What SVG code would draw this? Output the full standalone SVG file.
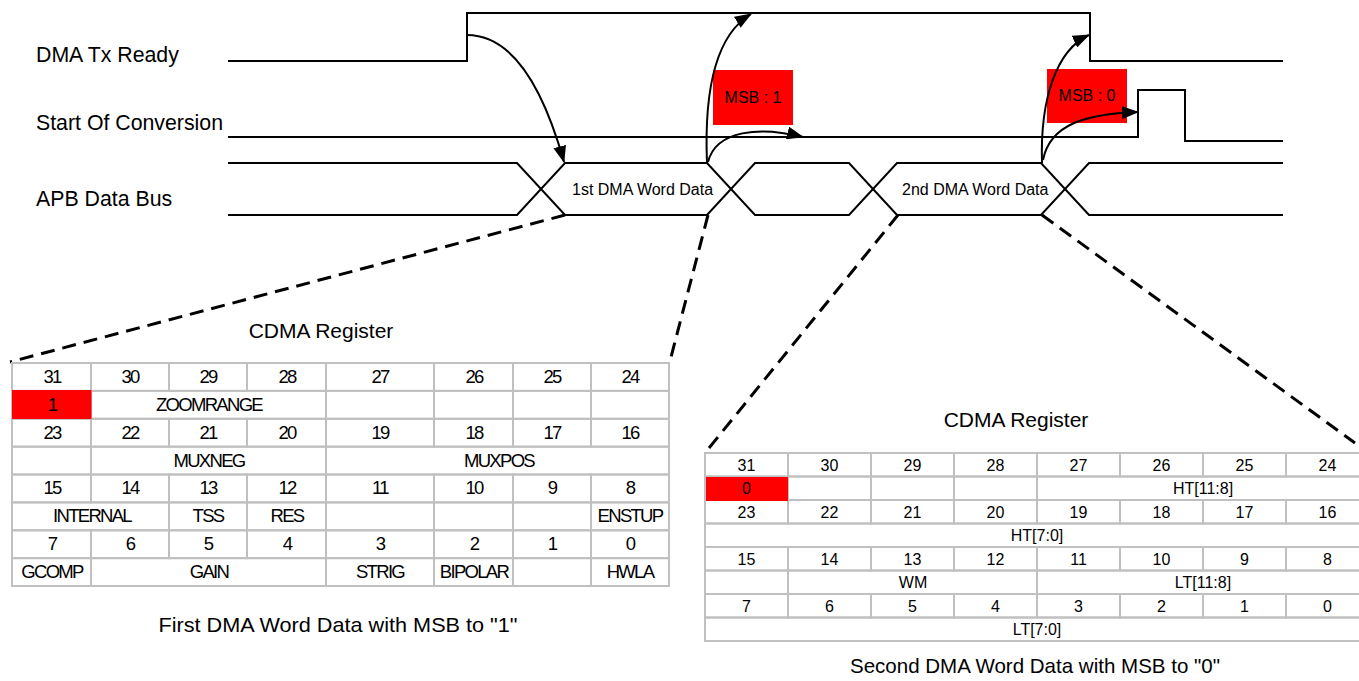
<svg xmlns="http://www.w3.org/2000/svg" width="1359" height="681" viewBox="0 0 1359 681">
<style>
text{font-family:"Liberation Sans",Arial,sans-serif;fill:#000}
.sig{fill:none;stroke:#000;stroke-width:2}
.lbl{font-size:21.3px}
.bus{font-size:16px}
.msb{font-size:16px;text-anchor:middle}
.red{fill:#ff0000}
.cell{fill:none;stroke:#c0c0c0;stroke-width:2}
.lt{font-size:18.5px;letter-spacing:-1.7px;text-anchor:middle}
.rt{font-size:16px;text-anchor:middle}
.title{font-size:21px;text-anchor:middle}
.cap{font-size:21px;text-anchor:middle}
.arr{fill:none;stroke:#000;stroke-width:2;marker-end:url(#ah)}
.dash{fill:none;stroke:#000;stroke-width:3;stroke-dasharray:14 8}
</style>
<defs>
<marker id="ah" markerUnits="userSpaceOnUse" markerWidth="17" markerHeight="13" refX="16" refY="6.5" orient="auto">
<path d="M0,0 L17,6.5 L0,13 z" fill="#000"/>
</marker>
</defs>
<rect width="1359" height="681" fill="#fff"/>

<g id="dma-tx-ready">
<text class="lbl" x="36" y="62">DMA Tx Ready</text>
<path class="sig" d="M228,61 H467 V13 H1090 V61 H1283"/>
</g>

<g id="start-of-conversion">
<text class="lbl" x="36" y="130">Start Of Conversion</text>
<path class="sig" d="M228,137 H1138 V90 H1185 V141 H1283"/>
</g>

<g id="apb-data-bus">
<text class="lbl" x="36" y="206">APB Data Bus</text>
<path class="sig" d="M228,163 H517 L565,215 H707 L755,163 H849 L897,215 H1041 L1089,163 H1283"/>
<path class="sig" d="M228,215 H517 L565,163 H707 L755,215 H849 L897,163 H1041 L1089,215 H1283"/>
<text class="bus" x="572" y="195">1st DMA Word Data</text>
<text class="bus" x="902" y="195">2nd DMA Word Data</text>
</g>

<g id="msb1">
<rect class="red" x="713" y="70" width="80" height="55"/>
<text class="msb" x="753" y="103">MSB : 1</text>
</g>
<g id="msb0">
<rect class="red" x="1047" y="69" width="80" height="54"/>
<text class="msb" x="1087" y="101">MSB : 0</text>
</g>

<g id="connectors">
<path class="arr" d="M467,35 C520,35 548,105 564,162"/>
<path class="arr" d="M707,163 C704,90 716,35 751,14"/>
<path class="arr" d="M708,162 C716,130 760,126 803,137"/>
<path class="arr" d="M1042,163 C1040,100 1056,50 1089,35"/>
<path class="arr" d="M1043,160 C1050,124 1086,114 1138,112"/>
<path class="dash" d="M565,215 L10,362"/>
<path class="dash" d="M708,215 L670,361"/>
<path class="dash" d="M898,215 L705,453"/>
<path class="dash" d="M1042,215 L1355,443"/>
</g>

<g id="cdma-register-1">
<text class="title" x="321" y="338">CDMA Register</text>
<g class="grid">
<rect class="cell" x="12" y="363" width="79" height="27.9"/><rect class="cell" x="91" y="363" width="78" height="27.9"/><rect class="cell" x="169" y="363" width="78" height="27.9"/><rect class="cell" x="247" y="363" width="79" height="27.9"/><rect class="cell" x="326" y="363" width="108" height="27.9"/><rect class="cell" x="434" y="363" width="79" height="27.9"/><rect class="cell" x="513" y="363" width="78" height="27.9"/><rect class="cell" x="591" y="363" width="78" height="27.9"/>
<rect class="cell" x="12" y="390.9" width="79" height="27.9"/><rect class="cell" x="91" y="390.9" width="235" height="27.9"/><rect class="cell" x="326" y="390.9" width="108" height="27.9"/><rect class="cell" x="434" y="390.9" width="79" height="27.9"/><rect class="cell" x="513" y="390.9" width="78" height="27.9"/><rect class="cell" x="591" y="390.9" width="78" height="27.9"/>
<rect class="cell" x="12" y="418.8" width="79" height="27.9"/><rect class="cell" x="91" y="418.8" width="78" height="27.9"/><rect class="cell" x="169" y="418.8" width="78" height="27.9"/><rect class="cell" x="247" y="418.8" width="79" height="27.9"/><rect class="cell" x="326" y="418.8" width="108" height="27.9"/><rect class="cell" x="434" y="418.8" width="79" height="27.9"/><rect class="cell" x="513" y="418.8" width="78" height="27.9"/><rect class="cell" x="591" y="418.8" width="78" height="27.9"/>
<rect class="cell" x="12" y="446.6" width="79" height="27.9"/><rect class="cell" x="91" y="446.6" width="235" height="27.9"/><rect class="cell" x="326" y="446.6" width="343" height="27.9"/>
<rect class="cell" x="12" y="474.5" width="79" height="27.9"/><rect class="cell" x="91" y="474.5" width="78" height="27.9"/><rect class="cell" x="169" y="474.5" width="78" height="27.9"/><rect class="cell" x="247" y="474.5" width="79" height="27.9"/><rect class="cell" x="326" y="474.5" width="108" height="27.9"/><rect class="cell" x="434" y="474.5" width="79" height="27.9"/><rect class="cell" x="513" y="474.5" width="78" height="27.9"/><rect class="cell" x="591" y="474.5" width="78" height="27.9"/>
<rect class="cell" x="12" y="502.4" width="157" height="27.9"/><rect class="cell" x="169" y="502.4" width="78" height="27.9"/><rect class="cell" x="247" y="502.4" width="79" height="27.9"/><rect class="cell" x="326" y="502.4" width="108" height="27.9"/><rect class="cell" x="434" y="502.4" width="79" height="27.9"/><rect class="cell" x="513" y="502.4" width="78" height="27.9"/><rect class="cell" x="591" y="502.4" width="78" height="27.9"/>
<rect class="cell" x="12" y="530.3" width="79" height="27.9"/><rect class="cell" x="91" y="530.3" width="78" height="27.9"/><rect class="cell" x="169" y="530.3" width="78" height="27.9"/><rect class="cell" x="247" y="530.3" width="79" height="27.9"/><rect class="cell" x="326" y="530.3" width="108" height="27.9"/><rect class="cell" x="434" y="530.3" width="79" height="27.9"/><rect class="cell" x="513" y="530.3" width="78" height="27.9"/><rect class="cell" x="591" y="530.3" width="78" height="27.9"/>
<rect class="cell" x="12" y="558.1" width="79" height="27.9"/><rect class="cell" x="91" y="558.1" width="235" height="27.9"/><rect class="cell" x="326" y="558.1" width="108" height="27.9"/><rect class="cell" x="434" y="558.1" width="79" height="27.9"/><rect class="cell" x="513" y="558.1" width="78" height="27.9"/><rect class="cell" x="591" y="558.1" width="78" height="27.9"/>
</g>
<rect class="red" x="12" y="390" width="79.5" height="29"/>
<g class="lt">
<text x="52" y="383">31</text><text x="130" y="383">30</text><text x="208" y="383">29</text><text x="287" y="383">28</text><text x="380" y="383">27</text><text x="474" y="383">26</text><text x="552" y="383">25</text><text x="630" y="383">24</text>
<text x="52" y="411">1</text><text x="209" y="411">ZOOMRANGE</text>
<text x="52" y="439">23</text><text x="130" y="439">22</text><text x="208" y="439">21</text><text x="287" y="439">20</text><text x="380" y="439">19</text><text x="474" y="439">18</text><text x="552" y="439">17</text><text x="630" y="439">16</text>
<text x="209" y="467">MUXNEG</text><text x="499" y="467">MUXPOS</text>
<text x="52" y="494">15</text><text x="130" y="494">14</text><text x="208" y="494">13</text><text x="287" y="494">12</text><text x="380" y="494">11</text><text x="474" y="494">10</text><text x="552" y="494">9</text><text x="630" y="494">8</text>
<text x="92" y="522">INTERNAL</text><text x="208" y="522">TSS</text><text x="287" y="522">RES</text><text x="630" y="522">ENSTUP</text>
<text x="52" y="550">7</text><text x="130" y="550">6</text><text x="208" y="550">5</text><text x="287" y="550">4</text><text x="380" y="550">3</text><text x="474" y="550">2</text><text x="552" y="550">1</text><text x="630" y="550">0</text>
<text x="52" y="578">GCOMP</text><text x="209" y="578">GAIN</text><text x="380" y="578">STRIG</text><text x="474" y="578">BIPOLAR</text><text x="630" y="578">HWLA</text>
</g>
<text class="cap" x="338" y="632" textLength="359" lengthAdjust="spacingAndGlyphs">First DMA Word Data with MSB to "1"</text>
</g>

<g id="cdma-register-2">
<text class="title" x="1016" y="427">CDMA Register</text>
<g class="grid">
<rect class="cell" x="705" y="453" width="83" height="23.5"/><rect class="cell" x="788" y="453" width="83" height="23.5"/><rect class="cell" x="871" y="453" width="83" height="23.5"/><rect class="cell" x="954" y="453" width="83" height="23.5"/><rect class="cell" x="1037" y="453" width="83" height="23.5"/><rect class="cell" x="1120" y="453" width="83" height="23.5"/><rect class="cell" x="1203" y="453" width="83" height="23.5"/><rect class="cell" x="1286" y="453" width="83" height="23.5"/>
<rect class="cell" x="705" y="476.5" width="83" height="23.5"/><rect class="cell" x="788" y="476.5" width="83" height="23.5"/><rect class="cell" x="871" y="476.5" width="83" height="23.5"/><rect class="cell" x="954" y="476.5" width="83" height="23.5"/><rect class="cell" x="1037" y="476.5" width="332" height="23.5"/>
<rect class="cell" x="705" y="500" width="83" height="23.5"/><rect class="cell" x="788" y="500" width="83" height="23.5"/><rect class="cell" x="871" y="500" width="83" height="23.5"/><rect class="cell" x="954" y="500" width="83" height="23.5"/><rect class="cell" x="1037" y="500" width="83" height="23.5"/><rect class="cell" x="1120" y="500" width="83" height="23.5"/><rect class="cell" x="1203" y="500" width="83" height="23.5"/><rect class="cell" x="1286" y="500" width="83" height="23.5"/>
<rect class="cell" x="705" y="523.5" width="664" height="23.5"/>
<rect class="cell" x="705" y="547" width="83" height="23.5"/><rect class="cell" x="788" y="547" width="83" height="23.5"/><rect class="cell" x="871" y="547" width="83" height="23.5"/><rect class="cell" x="954" y="547" width="83" height="23.5"/><rect class="cell" x="1037" y="547" width="83" height="23.5"/><rect class="cell" x="1120" y="547" width="83" height="23.5"/><rect class="cell" x="1203" y="547" width="83" height="23.5"/><rect class="cell" x="1286" y="547" width="83" height="23.5"/>
<rect class="cell" x="705" y="570.5" width="83" height="23.5"/><rect class="cell" x="788" y="570.5" width="249" height="23.5"/><rect class="cell" x="1037" y="570.5" width="332" height="23.5"/>
<rect class="cell" x="705" y="594" width="83" height="23.5"/><rect class="cell" x="788" y="594" width="83" height="23.5"/><rect class="cell" x="871" y="594" width="83" height="23.5"/><rect class="cell" x="954" y="594" width="83" height="23.5"/><rect class="cell" x="1037" y="594" width="83" height="23.5"/><rect class="cell" x="1120" y="594" width="83" height="23.5"/><rect class="cell" x="1203" y="594" width="83" height="23.5"/><rect class="cell" x="1286" y="594" width="83" height="23.5"/>
<rect class="cell" x="705" y="617.5" width="664" height="23.5"/>
</g>
<rect class="red" x="706" y="477" width="82" height="24"/>
<g class="rt">
<text x="746.5" y="471">31</text><text x="829.5" y="471">30</text><text x="912.5" y="471">29</text><text x="995.5" y="471">28</text><text x="1078.5" y="471">27</text><text x="1161.5" y="471">26</text><text x="1244.5" y="471">25</text><text x="1327.5" y="471">24</text>
<text x="746.5" y="494">0</text><text x="1203" y="494">HT[11:8]</text>
<text x="746.5" y="518">23</text><text x="829.5" y="518">22</text><text x="912.5" y="518">21</text><text x="995.5" y="518">20</text><text x="1078.5" y="518">19</text><text x="1161.5" y="518">18</text><text x="1244.5" y="518">17</text><text x="1327.5" y="518">16</text>
<text x="1037" y="541">HT[7:0]</text>
<text x="746.5" y="565">15</text><text x="829.5" y="565">14</text><text x="912.5" y="565">13</text><text x="995.5" y="565">12</text><text x="1078.5" y="565">11</text><text x="1161.5" y="565">10</text><text x="1244.5" y="565">9</text><text x="1327.5" y="565">8</text>
<text x="913" y="588">WM</text><text x="1203" y="588">LT[11:8]</text>
<text x="746.5" y="612">7</text><text x="829.5" y="612">6</text><text x="912.5" y="612">5</text><text x="995.5" y="612">4</text><text x="1078.5" y="612">3</text><text x="1161.5" y="612">2</text><text x="1244.5" y="612">1</text><text x="1327.5" y="612">0</text>
<text x="1037" y="635">LT[7:0]</text>
</g>
<text class="cap" x="1035" y="673" textLength="370" lengthAdjust="spacingAndGlyphs">Second DMA Word Data with MSB to "0"</text>
</g>
</svg>
